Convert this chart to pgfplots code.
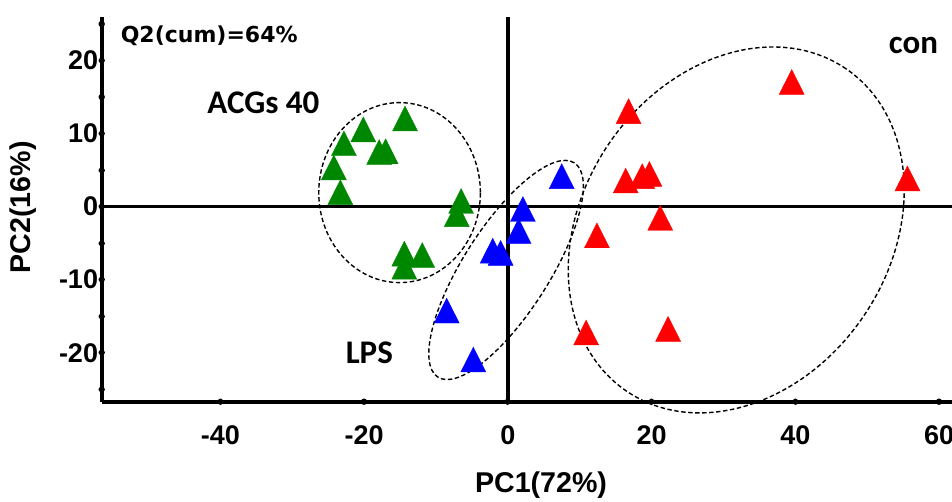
\documentclass[border=0pt]{standalone}
\usepackage{fontspec}
\setmainfont{Liberation Sans}
\newfontfamily\calib{Carlito}
\newfontfamily\dejavu{DejaVu Sans}
\usepackage{pgfplots}
\pgfplotsset{compat=1.18}
\definecolor{mygreen}{RGB}{0,135,0}
\definecolor{myblue}{RGB}{0,0,255}
\definecolor{myred}{RGB}{255,0,0}

\pgfplotstableread{
x y
-14.3 11.5
-20.1 10.0
-22.8 8.1
-17.9 6.9
-17.0 7.0
-24.2 4.8
-23.3 1.4
-6.5 0.2
-7.1 -1.6
-14.4 -7.0
-11.9 -7.2
-14.4 -8.8
}\acgs
\pgfplotstableread{
x y
7.5 3.6
2.1 -0.9
1.5 -3.9
-2.1 -6.6
-1.0 -6.9
-8.5 -14.8
-4.8 -21.5
}\lps
\pgfplotstableread{
x y
39.5 16.5
16.8 12.5
16.4 3.0
18.7 3.6
19.7 3.9
55.6 3.3
21.2 -2.1
12.4 -4.5
10.9 -17.8
22.3 -17.3
}\con

\begin{document}
\begin{tikzpicture}
\begin{axis}[
  at={(0,0)}, anchor=south west,
  scale only axis,
  width=425.15pt, height=192.5pt,
  xmin=-56.5, xmax=61.8, ymin=-26.7, ymax=26.0,
  axis x line*=bottom, axis y line*=left,
  axis line style={line width=2pt},
  xtick={-40,-20,0,20,40,60},
  ytick={-20,-10,0,10,20},
  minor ytick={-25,-15,-5,5,15,25},
  tick align=center,
  major tick length=0.6pt, minor tick length=0.6pt,
  tick style={line width=2.6pt, line cap=round, black},
  /pgf/number format/assume math mode=true,
  tick label style={font=\fontsize{13.5}{16}\selectfont\bfseries},
  xticklabel style={yshift=-8pt},
  yticklabel style={xshift=2pt},
  xlabel={PC1(72\%)}, ylabel={PC2(16\%)},
  label style={font=\fontsize{14.3}{17}\selectfont\bfseries},
  x label style={at={(rel axis cs:0.5167,0)}, anchor=base, yshift=-45.65pt},
  y label style={at={(rel axis cs:0,0.505)}, anchor=center, yshift=39.2pt},
  clip=false,
]
\addplot[black, line width=1.7pt, forget plot] coordinates {(-56.5,0) (61.8,0)};
\addplot[black, line width=1.7pt, forget plot] coordinates {(0,-26.7) (0,26.0)};

\addplot[only marks, mark=triangle*, mark size=7.2pt,
  mark options={fill=mygreen, draw=mygreen, line width=0.2pt, yscale=1.15}] table {\acgs};
\addplot[only marks, mark=triangle*, mark size=7.2pt,
  mark options={fill=myblue, draw=myblue, line width=0.2pt, yscale=1.15}] table {\lps};
\addplot[only marks, mark=triangle*, mark size=7.2pt,
  mark options={fill=myred, draw=myred, line width=0.2pt, yscale=1.15}] table {\con};

\draw[black, line width=0.7pt, dash pattern=on 2.2pt off 1.3pt]
  (axis cs:-15.06,1.92) ellipse [x radius=40.4pt, y radius=45pt];
\draw[black, line width=0.7pt, dash pattern=on 2.2pt off 1.3pt]
  (axis cs:-0.24,-8.67) ellipse [x radius=63.5pt, y radius=21.5pt, rotate=57.5];
\draw[black, line width=0.7pt, dash pattern=on 2.2pt off 1.3pt]
  (axis cs:31.78,-3.19) ellipse [x radius=97.5pt, y radius=76.9pt, rotate=55.7];

\node[anchor=base west, inner sep=0, font=\dejavu\bfseries\fontsize{11}{13}\selectfont]
  at (axis cs:-53.9,22.4) {Q2(cum)=64\%};
\node[anchor=base west, inner sep=0, font=\calib\bfseries\fontsize{16.5}{19}\selectfont]
  at (axis cs:-41.84,12.79) {ACGs 40};
\node[anchor=base west, inner sep=0, font=\calib\bfseries\fontsize{16.5}{19}\selectfont]
  at (axis cs:-22.6,-21.45) {LPS};
\node[anchor=base west, inner sep=0, font=\calib\bfseries\fontsize{16.5}{19}\selectfont]
  at (axis cs:52.96,21.0) {con};
\end{axis}
\pgfresetboundingbox
\useasboundingbox (-50.85pt,-50.15pt) rectangle (425.15pt,200.85pt);
\end{tikzpicture}
\end{document}
